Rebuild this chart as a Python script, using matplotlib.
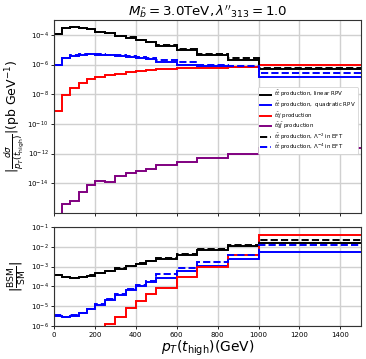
import numpy as np
import matplotlib
matplotlib.use("Agg")
import matplotlib.pyplot as plt

edges = [0, 40, 80, 120, 160, 200, 250, 300, 350, 400, 450, 500, 600, 700, 850, 1000, 1500]

# top panel: |dsigma/dpT| (pb/GeV)
lin_rpv = [1.2e-4, 2.8e-4, 3.4e-4, 3.1e-4, 2.4e-4, 1.67e-4, 1.3e-4, 8.5e-5, 6.6e-5, 4.6e-5, 3.2e-5,
           1.9e-5, 9.5e-6, 4.4e-6, 2.2e-6, 4.7e-7]
eft2 = [1.2e-4, 2.8e-4, 3.4e-4, 3.1e-4, 2.4e-4, 1.67e-4, 1.3e-4, 8.7e-5, 6.8e-5, 4.8e-5, 3.4e-5,
        2.1e-5, 1.05e-5, 5.0e-6, 2.6e-6, 6.0e-7]
quad_rpv = [9.3e-7, 2.6e-6, 4.0e-6, 4.6e-6, 4.8e-6, 4.6e-6, 4.2e-6, 3.9e-6, 3.4e-6, 3.0e-6, 2.5e-6,
            1.4e-6, 9.5e-7, 7.5e-7, 6.5e-7, 1.4e-7]
eft4 = [9.5e-7, 2.7e-6, 4.2e-6, 4.8e-6, 5.0e-6, 4.9e-6, 4.6e-6, 4.3e-6, 3.8e-6, 3.4e-6, 2.9e-6,
        1.9e-6, 1.4e-6, 1.0e-6, 7.8e-7, 2.8e-7]
ttj = [7e-10, 9.3e-9, 2.8e-8, 5.4e-8, 1.05e-7, 1.4e-7, 1.9e-7, 2.5e-7, 3.2e-7, 3.8e-7, 4.4e-7,
       5.0e-7, 5.8e-7, 6.3e-7, 6.9e-7, 9.5e-7]
ttjj = [1e-18, 4.2e-16, 6.3e-16, 2.5e-15, 7.2e-15, 1.45e-14, 1.3e-14, 3.2e-14, 5.1e-14, 7.0e-14, 9.7e-14,
        1.6e-13, 2.7e-13, 5.3e-13, 1.0e-12, 2.5e-12]

# bottom panel: |BSM/SM|
r_lin = [3.7e-4, 2.8e-4, 2.5e-4, 2.8e-4, 3.5e-4, 4.5e-4, 5.9e-4, 7.7e-4, 1.05e-3, 1.4e-3, 1.9e-3,
         2.5e-3, 4.0e-3, 6.5e-3, 1.07e-2, 1.6e-2]
r_eft2 = [3.7e-4, 2.8e-4, 2.5e-4, 2.8e-4, 3.6e-4, 4.6e-4, 6.1e-4, 8.0e-4, 1.1e-3, 1.5e-3, 2.0e-3,
          2.8e-3, 4.5e-3, 7.3e-3, 1.25e-2, 2.3e-2]
r_quad = [3.3e-6, 2.8e-6, 3.3e-6, 4.5e-6, 6.9e-6, 1.2e-5, 2.0e-5, 3.5e-5, 6.3e-5, 1.0e-4, 1.6e-4,
          2.7e-4, 6.0e-4, 1.1e-3, 2.3e-3, 5.5e-3]
r_eft4 = [3.4e-6, 2.9e-6, 3.4e-6, 4.7e-6, 7.3e-6, 1.3e-5, 2.2e-5, 3.9e-5, 7.0e-5, 1.15e-4, 1.9e-4,
          4.0e-4, 8.0e-4, 1.7e-3, 4.0e-3, 1.2e-2]
r_ttj = [1e-9, 1e-9, 1e-9, 1e-9, 1e-9, 1e-9, 1.3e-6, 2.9e-6, 7.7e-6, 1.8e-5, 4.0e-5,
         8.5e-5, 2.8e-4, 9.5e-4, 3.7e-3, 3.8e-2]

labels = [r"$t\bar{t}$ production, linear RPV",
          r"$t\bar{t}$ production,  quadratic RPV",
          r"$t\bar{t}j$ production",
          r"$t\bar{t}j\bar{j}$ production",
          r"$t\bar{t}$ production, $\Lambda^{-2}$ in EFT",
          r"$t\bar{t}$ production, $\Lambda^{-4}$ in EFT"]

fig = plt.figure(figsize=(3.66, 3.59), dpi=100)
ax1 = fig.add_axes([0.1475, 0.407, 0.8385, 0.537])
ax2 = fig.add_axes([0.1475, 0.092, 0.8385, 0.276])

lw = 1.4
ax1.stairs(lin_rpv, edges, color="black", lw=lw, label=labels[0], baseline=None)
ax1.stairs(quad_rpv, edges, color="blue", lw=lw, label=labels[1], baseline=None)
ax1.stairs(ttj, edges, color="red", lw=lw, label=labels[2], baseline=None)
ax1.stairs(ttjj, edges, color="purple", lw=lw, label=labels[3], baseline=None)
ax1.stairs(eft2, edges, color="black", lw=lw, ls="--", label=labels[4], baseline=None)
ax1.stairs(eft4, edges, color="blue", lw=lw, ls="--", label=labels[5], baseline=None)

ax2.stairs(r_lin, edges, color="black", lw=lw, baseline=None)
ax2.stairs(r_quad, edges, color="blue", lw=lw, baseline=None)
ax2.stairs(r_ttj, edges, color="red", lw=lw, baseline=None)
ax2.stairs(r_eft2, edges, color="black", lw=lw, ls="--", baseline=None)
ax2.stairs(r_eft4, edges, color="blue", lw=lw, ls="--", baseline=None)

for ax in (ax1, ax2):
    ax.set_yscale("log")
    ax.set_xlim(0, 1500)
    ax.set_xticks(np.arange(0, 1600, 200))
    ax.grid(True, color="#d0d0d0", lw=1.0)
    ax.set_axisbelow(True)
    ax.tick_params(labelsize=5, length=2, width=0.6, pad=2)
    for s in ax.spines.values():
        s.set_color("#333333")
        s.set_linewidth(0.8)

ax1.set_ylim(1e-16, 1e-3)
ax1.set_yticks([1e-14, 1e-12, 1e-10, 1e-8, 1e-6, 1e-4])
ax1.yaxis.set_minor_locator(matplotlib.ticker.NullLocator())
ax1.set_xticklabels([])
ax2.set_ylim(1e-6, 1e-1)
ax2.set_yticks([1e-6, 1e-5, 1e-4, 1e-3, 1e-2, 1e-1])
ax2.yaxis.set_minor_locator(matplotlib.ticker.NullLocator())

ax1.set_title(r"$M_{\tilde{b}}=3.0$TeV$,\lambda''_{313}=1.0$", fontsize=9.6, pad=3)
ax1.set_ylabel(r"$|\frac{d\sigma}{p_T(t_{\rm high})}|$(pb GeV$^{-1}$)", fontsize=9, labelpad=1)
ax2.set_ylabel(r"$|\frac{\rm BSM}{\rm SM}|$", fontsize=9.5, labelpad=1)
ax2.set_xlabel(r"$p_T(t_{\rm high})$(GeV)", fontsize=10, labelpad=1)

leg = ax1.legend(loc="upper right", bbox_to_anchor=(1.0, 0.665), fontsize=4.0,
                 handlelength=2.0, handletextpad=0.6, framealpha=1, borderpad=0.35,
                 labelspacing=0.08)
leg.get_frame().set_linewidth(0.5)

fig.savefig("out.png", dpi=100)
